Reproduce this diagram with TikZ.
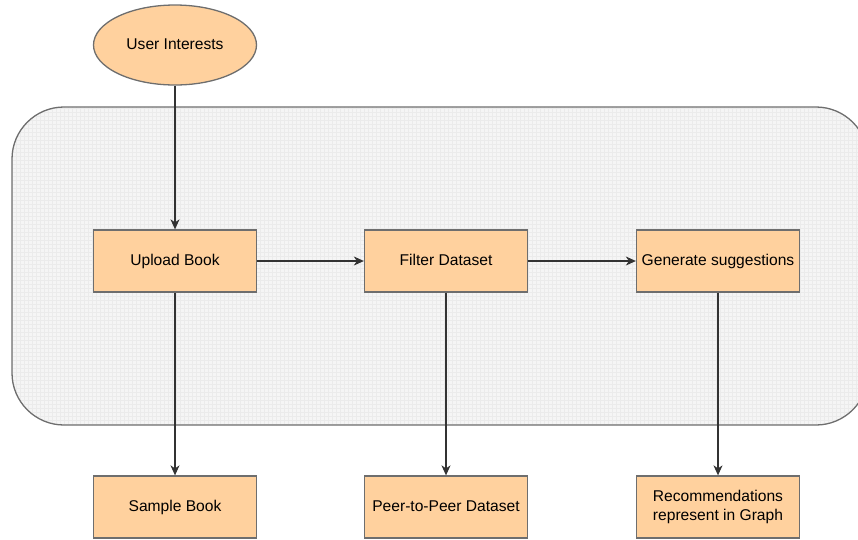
\documentclass[tikz,border=0pt]{standalone}
\usepackage{fontspec}
\setmainfont{Liberation Sans}
\usetikzlibrary{arrows.meta,shapes.geometric}
\definecolor{peach}{RGB}{255,209,158}
\definecolor{boxline}{RGB}{110,110,110}
\definecolor{panel}{RGB}{245,245,245}
\definecolor{gridc}{RGB}{235,235,235}
\tikzset{
  proc/.style={draw=boxline, line width=1.3pt, fill=peach, minimum width=163pt, minimum height=62pt, inner sep=2pt, font=\fontsize{15.6}{18.5}\selectfont, align=center},
  oneline/.style={text height=11pt, text depth=3pt},
  term/.style={draw=boxline, line width=1.3pt, fill=peach, ellipse, minimum width=163pt, minimum height=80pt, inner sep=0pt, font=\fontsize{15.6}{18.5}\selectfont, text height=11pt, text depth=3pt},
  conn/.style={draw=black!80, line width=1.1pt, -{Stealth[length=10pt,width=9pt,inset=3pt]}}
}
\begin{document}
\begin{tikzpicture}[x=1pt,y=-1pt]
\useasboundingbox (0,0) rectangle (858,539);
% container panel
\begin{scope}
\clip (0,0) rectangle (858,539);
\path[fill=panel, rounded corners=52pt] (12,107) rectangle (868,425);
\begin{scope}
\clip[rounded corners=52pt] (12,107) rectangle (868,425);
\draw[gridc, line width=0.35pt, step=4pt] (12,107) grid (868,425);
\end{scope}
\draw[boxline, line width=1.3pt, rounded corners=52pt] (12,107) rectangle (868,425);
\end{scope}
% nodes
\node[term] (ui) at (175,45) {User Interests};
\node[proc, oneline] (up) at (175,261) {Upload Book};
\node[proc, oneline] (fd) at (446,261) {Filter Dataset};
\node[proc, oneline] (gs) at (718,261) {Generate suggestions};
\node[proc, oneline] (sb) at (175,507) {Sample Book};
\node[proc, oneline] (pp) at (446,507) {Peer-to-Peer Dataset};
\node[proc] (rg) at (718,507) {Recommendations\\represent in Graph};
% connectors
\draw[conn] (ui) -- (up);
\draw[conn] (up) -- (fd);
\draw[conn] (fd) -- (gs);
\draw[conn] (up) -- (sb);
\draw[conn] (fd) -- (pp);
\draw[conn] (gs) -- (rg);
\end{tikzpicture}
\end{document}
